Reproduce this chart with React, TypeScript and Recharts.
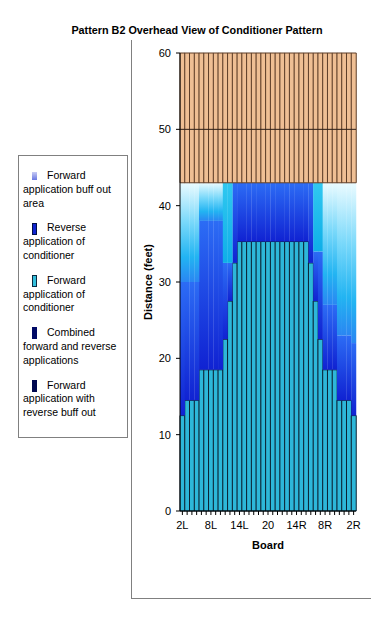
import { BarChart, Bar, XAxis, YAxis, Cell, ReferenceLine } from 'recharts'

// boards 2L..19L, 20, 19R..2R
const boards = [
  '2L', '3L', '4L', '5L', '6L', '7L', '8L', '9L', '10L', '11L', '12L', '13L', '14L', '15L', '16L', '17L', '18L', '19L',
  '20',
  '19R', '18R', '17R', '16R', '15R', '14R', '13R', '12R', '11R', '10R', '9R', '8R', '7R', '6R', '5R', '4R', '3R', '2R',
]

// feet, per board (stacked)
const forwardApp = [
  12.5, 14.5, 14.5, 14.5, 18.5, 18.5, 18.5, 18.5, 18.5, 22.5, 27.5, 32.5,
  35.3, 35.3, 35.3, 35.3, 35.3, 35.3, 35.3, 35.3, 35.3, 35.3, 35.3, 35.3, 35.3, 35.3, 35.3,
  32.5, 27.5, 22.5, 18.5, 18.5, 18.5, 14.5, 14.5, 14.5, 12.5,
]
const reverseApp = [
  17.5, 15.5, 15.5, 15.5, 19.5, 19.5, 19.5, 19.5, 19.5, 10, 5, 10.5,
  7.7, 7.7, 7.7, 7.7, 7.7, 7.7, 7.7, 7.7, 7.7, 7.7, 7.7, 7.7, 7.7, 7.7, 7.7,
  10.5, 6.5, 11.5, 8.5, 8.5, 8.5, 8.5, 8.5, 8.5, 9.5,
]
const buffOut = [
  13, 13, 13, 13, 5, 5, 5, 5, 5, 10.5, 10.5, 0,
  0, 0, 0, 0, 0, 0, 0, 0, 0, 0, 0, 0, 0, 0, 0,
  0, 9, 9, 16, 16, 16, 20, 20, 20, 21,
]
const laneRest = [
  17, 17, 17, 17, 17, 17, 17, 17, 17, 17, 17, 17,
  17, 17, 17, 17, 17, 17, 17, 17, 17, 17, 17, 17, 17, 17, 17,
  17, 17, 17, 17, 17, 17, 17, 17, 17, 17,
]

const yTicks = [0, 10, 20, 30, 40, 50, 60]
const labelledBoards = ['2L', '8L', '14L', '20', '14R', '8R', '2R']
const cyanBuffBoards = ['11L', '12L', '10R', '9R']

const legendLabels = [
  'Forward application buff out area',
  'Reverse application of conditioner',
  'Forward application of conditioner',
  'Combined forward and reverse applications',
  'Forward application with reverse buff out',
]

const swatch: Record<string, React.CSSProperties> = {
  'Forward application buff out area': {
    height: 8,
    background: 'linear-gradient(#c8ccf4, #6a78e2)',
  },
  'Reverse application of conditioner': { height: 12, background: '#1024d0', border: '1px solid #00104a' },
  'Forward application of conditioner': { height: 12, background: '#33bfdc', border: '1px solid #0b2a40' },
  'Combined forward and reverse applications': { height: 12, background: '#000a66' },
  'Forward application with reverse buff out': { height: 12, background: '#000850' },
}

const data = boards.map((board, i) => ({
  board,
  forward: forwardApp[i],
  reverse: reverseApp[i],
  buff: buffOut[i],
  lane: laneRest[i],
}))

const FONT = '"Liberation Sans", Arial, sans-serif'

export default function App() {
  return (
    <div
      style={{
        position: 'absolute',
        left: 0,
        top: 0,
        width: 388,
        height: 640,
        background: '#fff',
        fontFamily: FONT,
        overflow: 'hidden',
      }}
    >
      <div
        style={{
          position: 'absolute',
          left: 0,
          width: 394,
          top: 24,
          textAlign: 'center',
          fontSize: 10.8,
          fontWeight: 'bold',
        }}
      >
        Pattern B2 Overhead View of Conditioner Pattern
      </div>

      {/* chart frame */}
      <div style={{ position: 'absolute', left: 131, top: 40, width: 1, height: 558, background: '#808080' }} />
      <div style={{ position: 'absolute', left: 131, top: 598, width: 240, height: 1, background: '#808080' }} />

      {/* legend */}
      <div
        style={{
          position: 'absolute',
          left: 18,
          top: 155,
          width: 102,
          height: 268,
          padding: '13px 2px 0 4px',
          border: '1px solid #808080',
          fontSize: 10.5,
          lineHeight: '13.8px',
        }}
      >
        {legendLabels.map((label) => (
          <div key={label} style={{ marginBottom: 11 }}>
            <span
              style={{
                display: 'inline-block',
                width: 5,
                marginLeft: 9,
                marginRight: 10,
                verticalAlign: 'middle',
                boxSizing: 'border-box',
                ...swatch[label],
              }}
            />
            {label}
          </div>
        ))}
      </div>

      <div style={{ position: 'absolute', left: 0, top: 0 }}>
        <BarChart
          width={388}
          height={640}
          data={data}
          margin={{ top: 53, right: 32, bottom: 89, left: 130 }}
          barCategoryGap={0}
          barGap={0}
        >
          <defs>
            <linearGradient id="revGrad" x1="0" y1="0" x2="0" y2="1">
              <stop offset="0%" stopColor="#2c6cf5" />
              <stop offset="100%" stopColor="#1022d2" />
            </linearGradient>
            <linearGradient id="buffGrad" x1="0" y1="0" x2="0" y2="1">
              <stop offset="0%" stopColor="#eafbff" />
              <stop offset="40%" stopColor="#78d8fa" />
              <stop offset="75%" stopColor="#22b4f2" />
              <stop offset="100%" stopColor="#2a86f2" />
            </linearGradient>
            <linearGradient id="buffCyan" x1="0" y1="0" x2="0" y2="1">
              <stop offset="0%" stopColor="#30c8f0" />
              <stop offset="100%" stopColor="#0eaee8" />
            </linearGradient>
          </defs>
          <XAxis
            dataKey="board"
            interval={0}
            height={40}
            tickSize={4}
            tickMargin={6}
            tickFormatter={(v) => (labelledBoards.includes(v) ? v : '')}
            tick={{ fontSize: 11, fill: '#000', fontFamily: FONT }}
            axisLine={{ stroke: '#000' }}
            tickLine={{ stroke: '#000' }}
            label={{
              value: 'Board',
              position: 'insideBottom',
              offset: 2,
              style: { fontSize: 11, fontWeight: 'bold', fill: '#000', fontFamily: FONT },
            }}
          />
          <YAxis
            domain={[0, 60]}
            ticks={yTicks}
            width={50}
            tickSize={4}
            tickMargin={5}
            tick={{ fontSize: 11, fill: '#000', fontFamily: FONT }}
            axisLine={{ stroke: '#000' }}
            tickLine={{ stroke: '#000' }}
            label={{
              value: 'Distance (feet)',
              angle: -90,
              position: 'insideLeft',
              offset: 18,
              style: { textAnchor: 'middle', fontSize: 11, fontWeight: 'bold', fill: '#000', fontFamily: FONT },
            }}
          />
          <Bar
            dataKey="forward"
            stackId="a"
            fill="#2db7d9"
            stroke="#0b2233"
            strokeWidth={1}
            isAnimationActive={false}
          />
          <Bar dataKey="reverse" stackId="a" fill="url(#revGrad)" isAnimationActive={false} />
          <Bar dataKey="buff" stackId="a" isAnimationActive={false}>
            {data.map((d) => (
              <Cell
                key={d.board}
                fill={cyanBuffBoards.includes(d.board) ? 'url(#buffCyan)' : 'url(#buffGrad)'}
              />
            ))}
          </Bar>
          <Bar
            dataKey="lane"
            stackId="a"
            fill="#efbf94"
            stroke="#5e3e28"
            strokeWidth={1}
            isAnimationActive={false}
          />
          <ReferenceLine y={50} stroke="#2e2018" strokeWidth={1} />
        </BarChart>
      </div>
    </div>
  )
}
